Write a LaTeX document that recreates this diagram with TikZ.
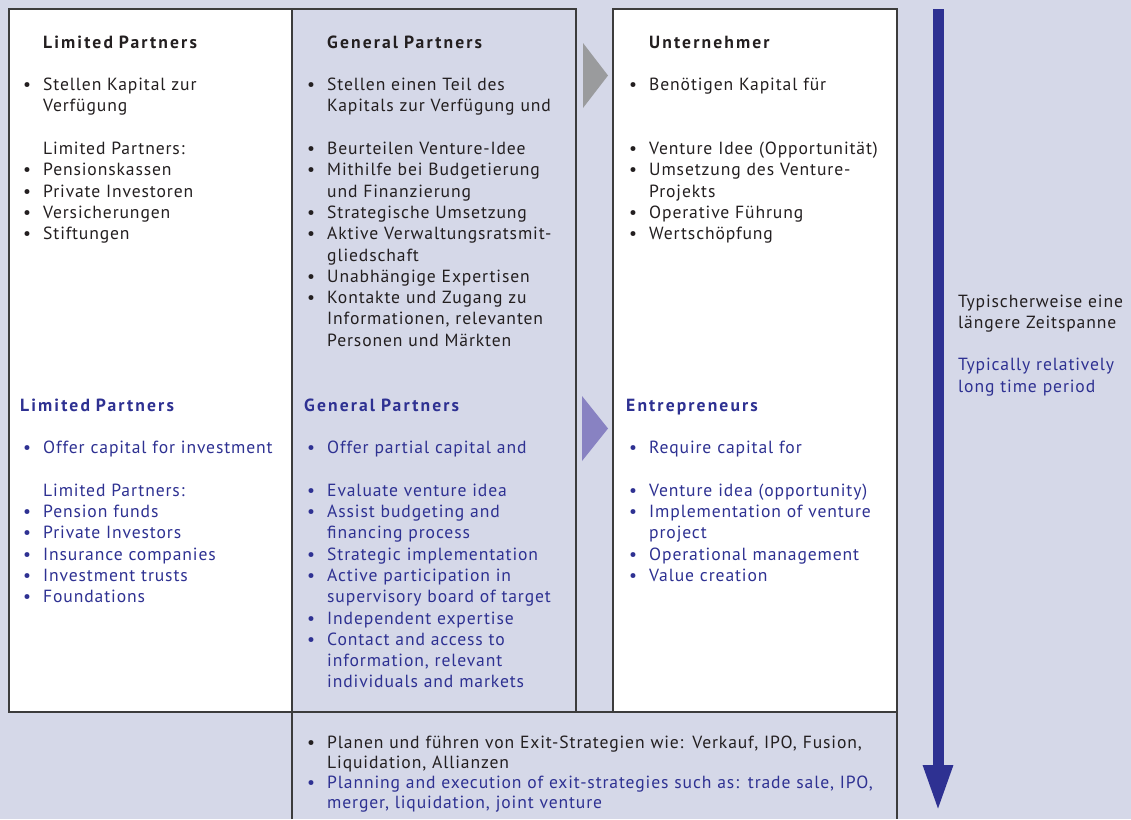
\documentclass[tikz,border=0pt]{standalone}
\usepackage{fontspec}
\setmainfont{PT Sans}[LetterSpace=5,BoldFeatures={LetterSpace=12}]
\usetikzlibrary{arrows.meta}

\definecolor{bgblue}{HTML}{D5D8E8}
\definecolor{enblue}{HTML}{2E3192}
\definecolor{txtblack}{HTML}{231F20}
\definecolor{framegray}{HTML}{3C3C3C}
\definecolor{trigray}{HTML}{9A9B9D}
\definecolor{tripurple}{HTML}{8882C2}

% bullet and indent for the list lines
\newcommand{\bl}{\makebox[23pt][l]{\hspace{3pt}\textbullet}}
\newcommand{\ind}{\hspace*{23pt}}
\newcommand{\gap}{\mbox{}}

\begin{document}
\begin{tikzpicture}[x=1pt,y=-1pt,
    frame/.style={draw=framegray,line width=1.4pt},
    col/.style={anchor=base west,align=left,text width=285pt,inner sep=0pt,
      font=\fontsize{17.6}{21.3}\selectfont,text=txtblack},
    en/.style={col,text=enblue}]

    \fill[bgblue] (0,0) rectangle (1131,819);
    \useasboundingbox (0,0) rectangle (1131,819);

    % columns
    \draw[frame,fill=white] (9,9) rectangle (292,712);
    \draw[frame,fill=bgblue] (292,9) rectangle (576,712);
    \draw[frame,fill=white] (613,9) rectangle (897,712);
    \draw[frame] (292,819) -- (292,712) -- (897,712) -- (897,819);

    \fill[trigray] (583,43) -- (608,75.5) -- (583,108) -- cycle;
    \fill[tripurple] (582,396) -- (608,428.5) -- (582,461) -- cycle;

    \draw[enblue,line width=11pt,-{Triangle[length=47pt,width=27pt]}] (938,9) -- (938,812);

    % German part
    \node[col] (lpDe) at (20,48) {\ind\textbf{Limited Partners}\\ \gap\\
      \bl Stellen Kapital zur\\ \ind Verfügung\\ \gap\\
      \ind Limited Partners:\\ \bl Pensionskassen\\ \bl Private Investoren\\
      \bl Versicherungen\\ \bl Stiftungen};
    \node[col] (gpDe) at (304,48) {\ind\textbf{General Partners}\\ \gap\\
      \bl Stellen einen Teil des\\ \ind Kapitals zur Verfügung und\\ \gap\\
      \bl Beurteilen Venture-Idee\\ \bl Mithilfe bei Budgetierung\\ \ind und Finanzierung\\
      \bl Strategische Umsetzung\\ \bl Aktive Verwaltungsratsmit-\\ \ind gliedschaft\\
      \bl Unabhängige Expertisen\\ \bl Kontakte und Zugang zu\\
      \ind Informationen, relevanten\\ \ind Personen und Märkten};
    \node[col] (unDe) at (626,48) {\ind\textbf{Unternehmer}\\ \gap\\
      \bl Benötigen Kapital für\\ \gap\\ \gap\\
      \bl Venture Idee (Opportunität)\\ \bl Umsetzung des Venture-\\ \ind Projekts\\
      \bl Operative Führung\\ \bl Wertschöpfung};

    % English part
    \node[en] (lpEn) at (20,411) {\textbf{Limited Partners}\\ \gap\\
      \bl Offer capital for investment\\ \gap\\
      \ind Limited Partners:\\ \bl Pension funds\\ \bl Private Investors\\
      \bl Insurance companies\\ \bl Investment trusts\\ \bl Foundations};
    \node[en] (gpEn) at (304,411) {\textbf{General Partners}\\ \gap\\
      \bl Offer partial capital and\\ \gap\\
      \bl Evaluate venture idea\\ \bl Assist budgeting and\\ \ind financing process\\
      \bl Strategic implementation\\ \bl Active participation in\\
      \ind supervisory board of target\\ \bl Independent expertise\\
      \bl Contact and access to\\ \ind information, relevant\\ \ind individuals and markets};
    \node[en] (unEn) at (626,411) {\textbf{Entrepreneurs}\\ \gap\\
      \bl Require capital for\\ \gap\\
      \bl Venture idea (opportunity)\\ \bl Implementation of venture\\ \ind project\\
      \bl Operational management\\ \bl Value creation};

    % exit strategies
    \node[col,text width=620pt,font=\fontsize{17.6}{20}\selectfont] (exit) at (304,748)
      {\bl Planen und führen von Exit-Strategien wie: Verkauf, IPO, Fusion,\\
      \ind Liquidation, Allianzen\\
      {\color{enblue}\bl Planning and execution of exit-strategies such as: trade sale, IPO,\\
      \ind merger, liquidation, joint venture}};

    % time span
    \node[col,text width=200pt] (time) at (958,307) {Typischerweise eine\\ längere Zeitspanne\\ \gap\\
      {\color{enblue}Typically relatively\\ long time period}};
\end{tikzpicture}
\end{document}
